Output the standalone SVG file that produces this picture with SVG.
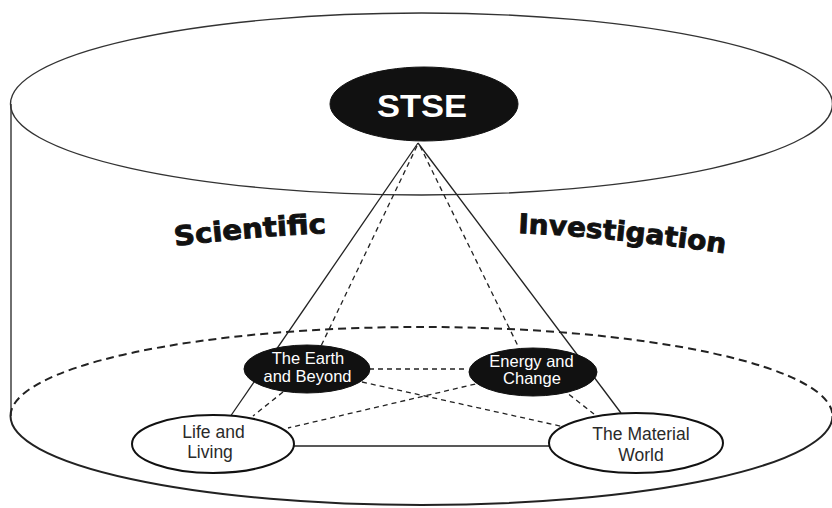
<svg xmlns="http://www.w3.org/2000/svg" width="832" height="508" viewBox="0 0 832 508">
<style>
.frame{fill:none;stroke:#333;stroke-width:1.4}
.base{fill:none;stroke:#222;stroke-width:2}
.basedash{fill:none;stroke:#222;stroke-width:2;stroke-dasharray:8 5}
.solid{fill:none;stroke:#222;stroke-width:1.3}
.dash{fill:none;stroke:#222;stroke-width:1.3;stroke-dasharray:5 4}
.dark{fill:#111;stroke:#111;stroke-width:1}
.light{fill:#fff;stroke:#111;stroke-width:2}
.wt{font-family:"Liberation Sans",Arial,sans-serif;fill:#fff;text-anchor:middle;font-size:16.5px}
.title{font-family:"Liberation Sans",Arial,sans-serif;fill:#fff;text-anchor:middle;font-size:32px;font-weight:bold}
.bt{font-family:"Liberation Sans",Arial,sans-serif;fill:#2a2a2a;text-anchor:middle;font-size:17.5px}
.big{font-family:"DejaVu Sans","Liberation Sans",sans-serif;font-weight:bold;font-size:27px;fill:#111;stroke:#111;stroke-width:0.9}
</style>
<defs>
<path id="arcL" d="M175,246 Q251,236.6 327,233"/>
<path id="arcR" d="M518,233 Q621.5,237.9 725,253.5"/>
</defs>
<g id="cylinder">
<ellipse class="frame" cx="421.5" cy="104" rx="411" ry="91"/>
<line class="frame" x1="11" y1="104" x2="11" y2="416"/>
<path class="basedash" d="M10.5,416 A411,89 0 0 1 832.5,416"/>
<path class="base" d="M10.5,416 A411,89 0 0 0 832.5,416"/>
</g>
<g id="labels">
<text class="big"><textPath href="#arcL" textLength="152" lengthAdjust="spacingAndGlyphs">Scientific</textPath></text>
<text class="big"><textPath href="#arcR" textLength="208" lengthAdjust="spacingAndGlyphs">Investigation</textPath></text>
</g>
<g id="connectors">
<line class="solid" x1="418" y1="143" x2="230" y2="417"/>
<line class="solid" x1="418" y1="143" x2="621" y2="413"/>
<line class="solid" x1="294" y1="446" x2="549" y2="446"/>
<line class="dash" x1="417" y1="146" x2="321" y2="346"/>
<line class="dash" x1="420" y1="146" x2="519" y2="348"/>
<line class="dash" x1="283" y1="392" x2="253" y2="416"/>
<line class="dash" x1="562" y1="389" x2="594" y2="414"/>
<line class="dash" x1="369" y1="369" x2="468" y2="369"/>
<line class="dash" x1="362" y1="382" x2="578" y2="430"/>
<line class="dash" x1="484" y1="382" x2="288" y2="428"/>
</g>
<g id="stse">
<ellipse class="dark" cx="424" cy="104" rx="94" ry="37"/>
<text class="title" x="422" y="117" textLength="90" lengthAdjust="spacingAndGlyphs">STSE</text>
</g>
<g id="earth">
<ellipse class="dark" cx="307" cy="369" rx="63" ry="24"/>
<text class="wt"><tspan x="308" y="364">The Earth</tspan><tspan x="307.5" y="382">and Beyond</tspan></text>
</g>
<g id="energy">
<ellipse class="dark" cx="533" cy="372" rx="64" ry="24"/>
<text class="wt"><tspan x="531.5" y="367">Energy and</tspan><tspan x="532" y="384">Change</tspan></text>
</g>
<g id="life">
<ellipse class="light" cx="213" cy="444" rx="81" ry="29"/>
<text class="bt"><tspan x="213.5" y="438">Life and</tspan><tspan x="210" y="458">Living</tspan></text>
</g>
<g id="material">
<ellipse class="light" cx="636" cy="443" rx="87" ry="30"/>
<text class="bt"><tspan x="641" y="440">The Material</tspan><tspan x="641" y="461">World</tspan></text>
</g>
</svg>
